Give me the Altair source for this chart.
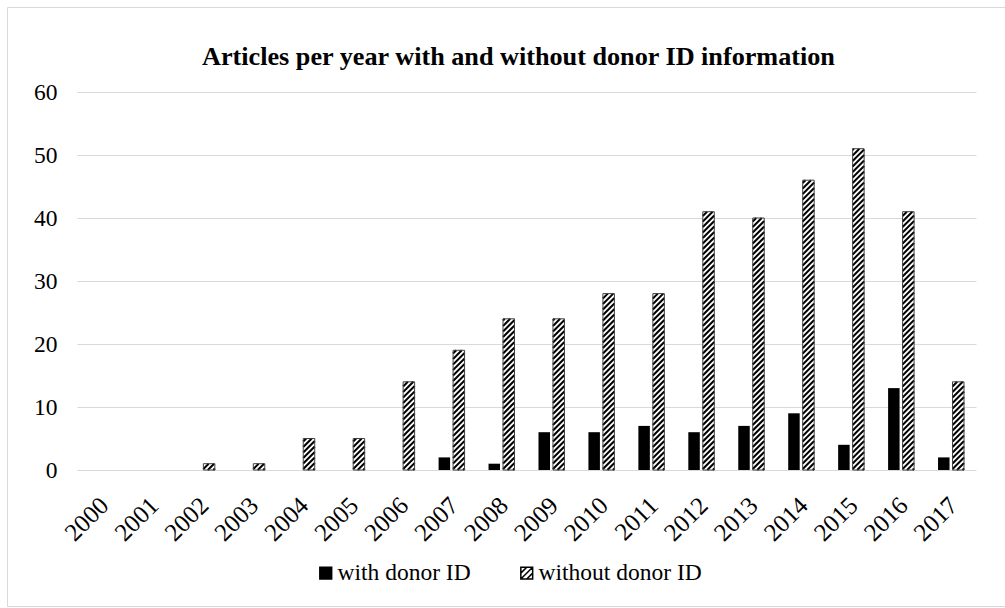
import altair as alt
import pandas as pd

# ---- data -------------------------------------------------------------
years = list(range(2000, 2018))
with_donor_id = [0, 0, 0, 0, 0, 0, 0, 2, 1, 6, 6, 7, 6, 7, 9, 4, 13, 2]
without_donor_id = [0, 0, 1, 1, 5, 5, 14, 19, 24, 24, 28, 28, 41, 40, 46, 51, 41, 14]
series_names = ["with donor ID", "without donor ID"]
title_text = "Articles per year with and without donor ID information"

# ---- geometry of the plot area ----------------------------------------
W, H = 899, 378          # plot area in px
Y_MAX = 60
BAR_W = 0.23             # bar width, in category units
HALF_GAP = 0.03          # half the gap between the two bars of a year
HATCH_STEP = 5.5         # vertical spacing of hatch lines, px

px_x = W / len(years)    # px per category unit
px_y = H / Y_MAX         # px per article

FONT = "Liberation Serif"
GRID = "#d9d9d9"

rows = []
for i, (yr, a, b) in enumerate(zip(years, with_donor_id, without_donor_id)):
    c = i + 0.5
    rows.append(dict(year=yr, series=series_names[0], value=a,
                     x0=c - HALF_GAP - BAR_W, x1=c - HALF_GAP))
    rows.append(dict(year=yr, series=series_names[1], value=b,
                     x0=c + HALF_GAP, x1=c + HALF_GAP + BAR_W))
bars = pd.DataFrame(rows)

# diagonal "/" hatch segments, clipped to each hatched bar (45 degrees on screen)
hatch = []
for r in rows:
    if r["series"] != series_names[1] or r["value"] <= 0:
        continue
    left = r["x0"] * px_x
    bw = (r["x1"] - r["x0"]) * px_x
    top = r["value"] * px_y
    k = -bw + 1.5
    while k < top:
        xs = max(0.0, -k)
        xe = min(bw, top - k)
        if xe > xs:
            hatch.append(dict(hx0=(left + xs) / px_x, hy0=(xs + k) / px_y,
                              hx1=(left + xe) / px_x, hy1=(xe + k) / px_y))
        k += HATCH_STEP
hatch = pd.DataFrame(hatch)

# ---- shared scales / axes ----------------------------------------------
x_scale = alt.Scale(domain=[0, len(years)], nice=False, zero=False)
y_scale = alt.Scale(domain=[0, Y_MAX], nice=False)

x_axis = alt.Axis(
    title=None, values=[i + 0.5 for i in range(len(years))],
    labelExpr="toString(2000 + floor(datum.value))",
    labelAngle=315, labelAlign="right", labelBaseline="middle",
    labelPadding=31, labelOffset=2, labelFont=FONT, labelFontSize=25,
    labelColor="black", ticks=False, domain=False, grid=False, labelOverlap=False,
)
y_axis = alt.Axis(
    title=None, values=list(range(0, Y_MAX + 1, 10)),
    labelFont=FONT, labelFontSize=23.5, labelColor="black", labelPadding=20,
    ticks=False, domain=False, grid=True, gridColor=GRID, gridWidth=1,
)


def X(field):
    return alt.X(field, type="quantitative", scale=x_scale, axis=x_axis)


def Y(field):
    return alt.Y(field, type="quantitative", scale=y_scale, axis=y_axis)


base = alt.Chart(bars)

black_bars = base.mark_rect(color="black").encode(
    x=X("x0"), x2="x1", y=Y("value"), y2=alt.datum(0)
).transform_filter(alt.datum.series == series_names[0])

hatched_fill = base.mark_rect(fill="white").encode(
    x=X("x0"), x2="x1", y=Y("value"), y2=alt.datum(0)
).transform_filter((alt.datum.series == series_names[1]) & (alt.datum.value > 0))

hatch_lines = alt.Chart(hatch).mark_rule(color="black", strokeWidth=2, strokeCap="butt").encode(
    x=X("hx0"), x2="hx1", y=Y("hy0"), y2="hy1"
)

hatched_outline = base.mark_rect(fillOpacity=0, stroke="#404040", strokeWidth=1).encode(
    x=X("x0"), x2="x1", y=Y("value"), y2=alt.datum(0)
).transform_filter((alt.datum.series == series_names[1]) & (alt.datum.value > 0))

# legend: symbols from fill / stroke / shape scales on points kept off-canvas
hatch_symbol = "M-1,-1H1V1H-1Z M-1,0L0,-1 M-1,1L1,-1 M0,1L1,0"
legend = alt.Legend(
    title=None, orient="none", direction="horizontal", legendX=237, legendY=469,
    labelFont=FONT, labelFontSize=23.5, labelColor="black", labelOffset=0,
    labelLimit=0, symbolSize=140, symbolStrokeWidth=1.5,
    symbolOpacity=1, columnPadding=44, padding=0,
)
legend_points = alt.Chart(pd.DataFrame({"series": series_names})).mark_point(
    filled=False, strokeWidth=1.5
).encode(
    x=alt.value(-600), y=alt.value(100),
    fill=alt.Fill("series:N", scale=alt.Scale(domain=series_names, range=["black", "white"]), legend=legend),
    stroke=alt.Stroke("series:N", scale=alt.Scale(domain=series_names, range=["black", "black"]), legend=legend),
    shape=alt.Shape("series:N", scale=alt.Scale(domain=series_names, range=["square", hatch_symbol]), legend=legend),
)

# light frame around the whole figure
frame = alt.Chart(pd.DataFrame({"k": [0]})).mark_rect(
    fill="white", fillOpacity=0, stroke=GRID, strokeWidth=1
).encode(x=alt.value(-69.5), x2=alt.value(940), y=alt.value(-84.5), y2=alt.value(514.5))

title = alt.Chart(pd.DataFrame({"t": [title_text]})).mark_text(
    font=FONT, fontSize=26.2, fontWeight="bold", color="black",
    align="center", baseline="alphabetic",
).encode(text="t:N", x=alt.value(441.5), y=alt.value(-27))

chart = alt.layer(
    frame, title, black_bars, hatched_fill, hatch_lines, hatched_outline, legend_points
).properties(
    width=W, height=H,
    autosize=alt.AutoSizeParams(type="none"),
    padding={"left": 77, "top": 92, "right": 29, "bottom": 138},
    background="white",
).configure_view(strokeWidth=0)

chart.save("out.html", embed_options={"renderer": "svg", "actions": False})
